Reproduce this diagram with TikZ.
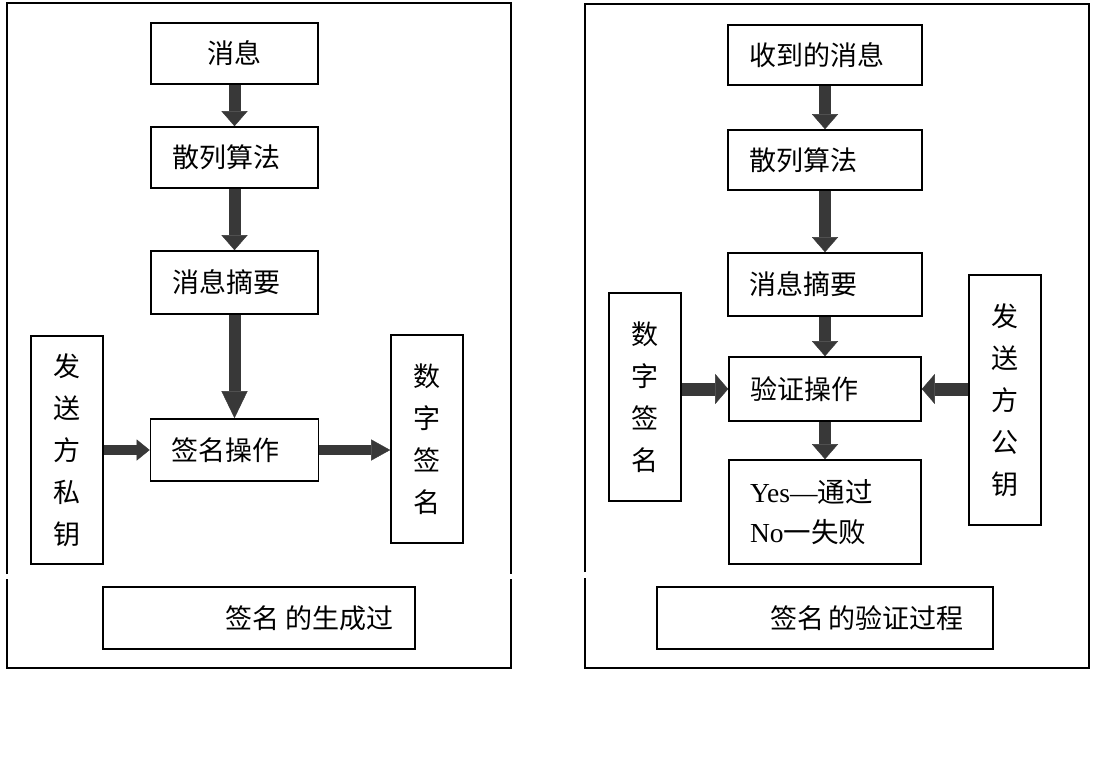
\documentclass[tikz,border=0pt]{standalone}
\usepackage{fontspec}
\setmainfont{Noto Sans CJK SC}
\newfontfamily\latinserif{Liberation Serif}
\usetikzlibrary{arrows.meta,positioning}
\definecolor{arrowgray}{HTML}{383838}

\begin{document}
\begin{tikzpicture}[
  x=1pt, y=-1pt,
  every node/.style={font=\fontsize{27pt}{42pt}\selectfont},
  box/.style={draw, line width=1.6pt, inner xsep=21pt, inner ysep=0pt, align=left},
  colbox/.style={box, align=center, text width=30pt},
  frame/.style={line width=1.6pt},
  flow/.style={arrowgray, line width=12pt, -{Triangle[width=26pt, length=15pt, line width=0.4pt]}},
  longflow/.style={arrowgray, line width=12pt, -{Triangle[width=26pt, length=27pt, line width=0.4pt]}},
  sideflow/.style={arrowgray, line width=10pt, -{Triangle[width=21pt, length=#1, line width=0.4pt]}},
  verflow/.style={arrowgray, line width=13pt, -{Triangle[width=30pt, length=13pt, line width=0.4pt]}},
]
\useasboundingbox (0,0) rectangle (1094,768);
% outer frames, each broken on its sides a little above the caption
\draw[frame] (7,574) -- (7,3) -- (511,3) -- (511,574);
\draw[frame] (7,579) -- (7,668) -- (511,668) -- (511,579);
\draw[frame] (585,572) -- (585,4) -- (1089,4) -- (1089,668) -- (585,668) -- (585,578);

% signing side
\node[box, align=center, text width=125pt, minimum height=61pt] (lmsg) at (234.5,53.5) {消息};
\node[box, text width=125pt, minimum height=61pt] (lhash) at (234.5,157.5) {散列算法};
\node[box, text width=125pt, minimum height=63pt] (ldig) at (234.5,282.5) {消息摘要};
\node[box, text width=126pt, minimum height=62pt] (lsign) at (234.5,450) {签名操作};
\node[colbox, minimum height=228pt] (lkey) at (67,450) {发\\送\\方\\私\\钥};
\node[colbox, minimum height=208pt] (lsig) at (427,439) {数\\字\\签\\名};
\node[box, align=right, text width=270pt, minimum height=62pt] (lcap) at (259,618) {签名\hspace{7pt}的生成过};

\draw[flow] (lmsg) -- (lhash);
\draw[flow] (lhash) -- (ldig);
\draw[longflow] (ldig) -- (lsign);
\draw[sideflow=13pt] (lkey) -- (lsign);
\draw[sideflow=19pt] (lsign.east) -- (lsign.east -| lsig.west);

% verifying side
\node[box, text width=152pt, minimum height=60pt] (rmsg) at (825,55) {收到的消息};
\node[box, text width=152pt, minimum height=60pt] (rhash) at (825,160) {散列算法};
\node[box, text width=152pt, minimum height=63pt] (rdig) at (825,284.5) {消息摘要};
\node[box, text width=150pt, minimum height=64pt] (rver) at (825,389) {验证操作};
\node[box, text width=150pt, minimum height=104pt, font=\fontsize{27.5pt}{40pt}\selectfont] (rres) at (825,512)
  {{\latinserif Yes—}通过\\{\latinserif No}一失败};
\node[colbox, minimum height=208pt] (rsig) at (645,397) {数\\字\\签\\名};
\node[colbox, minimum height=250pt] (rkey) at (1005,400) {发\\送\\方\\公\\钥};
\node[box, inner xsep=30pt, align=right, text width=276pt, minimum height=62pt] (rcap) at (825,618) {签名\hspace{4pt}的验证过程};

\draw[flow] (rmsg) -- (rhash);
\draw[flow] (rhash) -- (rdig);
\draw[flow] (rdig) -- (rver);
\draw[flow] (rver) -- (rres);
\draw[verflow] (rsig.east |- rver.west) -- (rver.west);
\draw[verflow] (rkey.west |- rver.east) -- (rver.east);
\end{tikzpicture}
\end{document}
